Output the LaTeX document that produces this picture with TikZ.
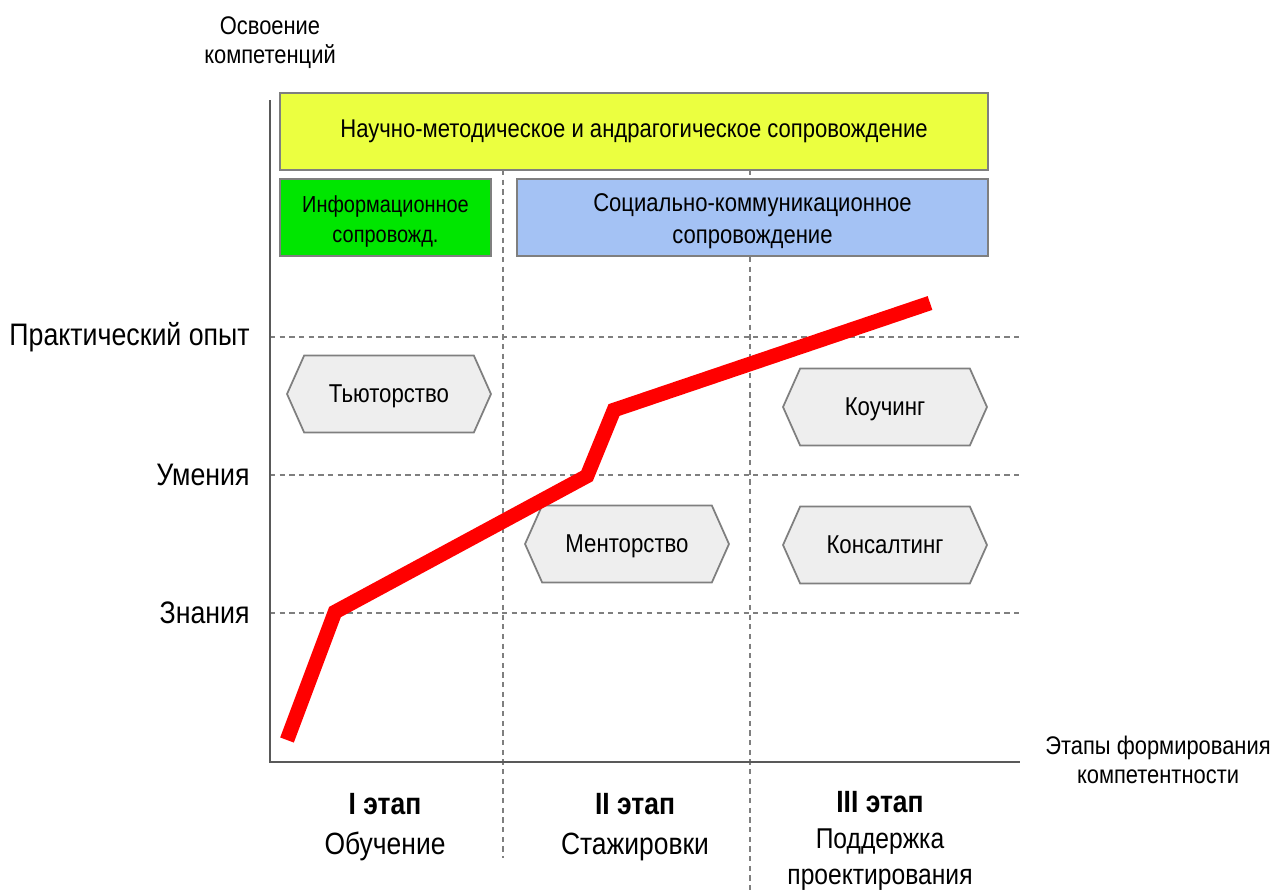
\documentclass[tikz,border=0pt]{standalone}
\usepackage{fontspec}
\setmainfont{Liberation Sans}[FakeStretch=0.86]
\usepackage{xcolor}
\usetikzlibrary{shapes.symbols,positioning}

\definecolor{boxyellow}{HTML}{EBFF40}
\definecolor{boxgreen}{HTML}{00E600}
\definecolor{boxblue}{HTML}{A4C2F4}
\definecolor{formgray}{HTML}{EEEEEE}
\definecolor{edgegray}{HTML}{7F7F7F}

\begin{document}
\begin{tikzpicture}[x=0.02cm,y=-0.02cm]
  \tikzstyle{band}=[draw=edgegray,line width=1pt,inner sep=0pt,minimum height=1.54cm,align=center,font=\fontsize{14.6}{18}\selectfont]
  \tikzstyle{form}=[signal,signal to=west and east,signal pointer angle=132,draw=edgegray,line width=1pt,fill=formgray,minimum width=4.08cm,minimum height=1.54cm,inner sep=0pt,text depth=0pt,font=\fontsize{14.7}{18}\selectfont]
  \tikzstyle{level}=[anchor=east,inner sep=0pt,font=\fontsize{17.7}{21}\selectfont]
  \tikzstyle{grid}=[edgegray,line width=0.9pt,dash pattern=on 3pt off 2.5pt]
  \tikzstyle{stage}=[align=center,inner sep=0pt,font=\fontsize{17.5}{22.5}\selectfont]
  \tikzstyle{caption}=[align=center,inner sep=0pt,font=\fontsize{14.5}{16.5}\selectfont]

  \useasboundingbox (0,0) rectangle (1275,893);

  % axes
  \coordinate (top) at (270,100);
  \coordinate (origin) at (270,762);
  \coordinate (right) at (1020,762);

  % grid
  \coordinate (g1a) at (503,170);
  \coordinate (g1b) at (503,858);
  \coordinate (g2a) at (750,170);
  \coordinate (g2b) at (750,893);
  \coordinate (h1a) at (270,337);
  \coordinate (h1b) at (1020,337);
  \coordinate (h2a) at (270,475);
  \coordinate (h2b) at (1020,475);
  \coordinate (h3a) at (270,613);
  \coordinate (h3b) at (1020,613);
  \draw[grid] (g1a) -- (g1b);
  \draw[grid] (g2a) -- (g2b);
  \draw[grid] (h1a) -- (h1b);
  \draw[grid] (h2a) -- (h2b);
  \draw[grid] (h3a) -- (h3b);

  \draw[line width=1.4pt,black!65] (top) -- (origin) -- (right);

  % support bands
  \node[band,fill=boxyellow,minimum width=14.16cm] (science) at (634,131.5) {Научно-методическое и андрагогическое сопровождение};
  \node[band,fill=boxgreen,minimum width=4.22cm,font=\fontsize{13.2}{17.5}\selectfont] (info) at (385.5,217.5) {\rule{0pt}{14pt}Информационное\\сопровожд.};
  \node[band,fill=boxblue,minimum width=9.42cm] (social) at (752.5,217.5) {\rule{0pt}{14.5pt}Социально-коммуникационное\\сопровождение};

  % forms
  \node[form] (tutor) at (389,394) {Тьюторство};
  \node[form] (mentor) at (627,544) {Менторство};
  \node[form] (coach) at (885,407) {Коучинг};
  \node[form] (consult) at (885,545) {Консалтинг};

  % levels
  \node[level] (practice) at (250,337) {Практический опыт};
  \node[level] (skills) at (250,475) {Умения};
  \node[level] (knowledge) at (250,613) {Знания};

  % axis captions
  \node[caption] (ycap) at (270,43) {Освоение\\компетенций};
  \node[caption] (xcap) at (1158,760) {Этапы формирования\\компетентности};

  % stages
  \node[stage] (s1) at (385,827) {\textbf{I этап}\\Обучение};
  \node[stage] (s2) at (635,827) {\textbf{II этап}\\Стажировки};
  \node[stage,font=\fontsize{16.3}{20.5}\selectfont] (s3) at (880,841) {\textbf{\fontsize{17.5}{20.5}\selectfont III этап}\\Поддержка\\проектирования};

  % growth curve
  \coordinate (c0) at (287,740);
  \coordinate (c1) at (335,612);
  \coordinate (c2) at (587,476);
  \coordinate (c3) at (614,410);
  \coordinate (c4) at (930,303);
  \draw[red,line width=8.3pt] (c0) -- (c1) -- (c2) -- (c3) -- (c4);
\end{tikzpicture}
\end{document}
